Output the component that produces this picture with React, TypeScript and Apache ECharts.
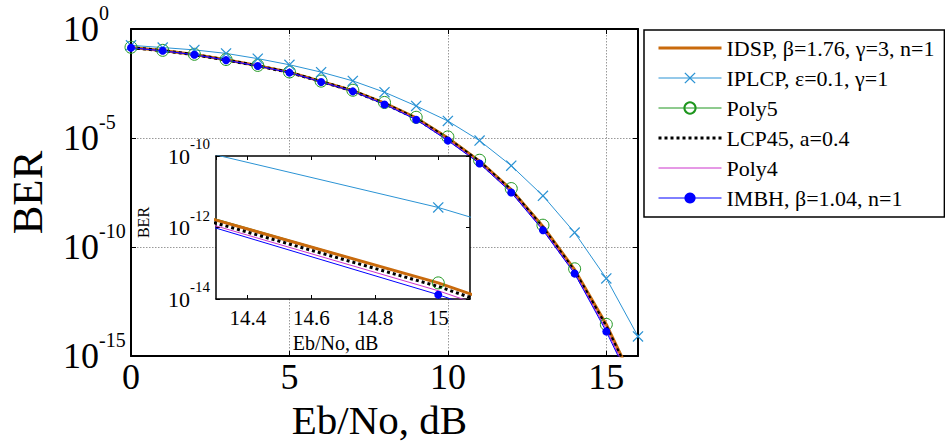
import React, { useEffect, useRef } from 'react';
import * as echarts from 'echarts';

// Eb/No (dB) sample points
const ebNo = [0, 1, 2, 3, 4, 5, 6, 7, 8, 9, 10, 11, 12, 13, 14, 15, 16];

// BER values
const berIDSP = [0.141, 0.102, 0.0676, 0.0389, 0.0209, 0.0105, 3.98e-3, 1.48e-3, 3.98e-4, 8.32e-5, 1.0e-5, 8.71e-7, 4.27e-8, 8.71e-10, 9.12e-12, 2.82e-14, 2.51e-17];
const berIPLCP = [0.178, 0.141, 0.11, 0.0759, 0.0437, 0.0229, 0.0105, 4.17e-3, 1.26e-3, 2.95e-4, 6.03e-5, 7.59e-6, 5.37e-7, 2.24e-8, 4.57e-10, 3.63e-12, 7.94e-15];
const berPoly5 = [0.145, 0.105, 0.0692, 0.0398, 0.0214, 0.0107, 4.07e-3, 1.55e-3, 4.27e-4, 8.91e-5, 1.12e-5, 9.55e-7, 4.79e-8, 1.0e-9, 1.0e-11, 2.82e-14, 3.16e-17];
const berLCP45 = [0.14, 0.101, 0.0668, 0.038, 0.0204, 0.0102, 3.89e-3, 1.45e-3, 3.8e-4, 7.76e-5, 9.12e-6, 8.13e-7, 3.89e-8, 7.59e-10, 7.59e-12, 2.24e-14, 2.0e-17];
const berPoly4 = [0.138, 0.1, 0.0661, 0.0376, 0.0202, 0.0101, 3.8e-3, 1.41e-3, 3.63e-4, 7.41e-5, 8.32e-6, 7.41e-7, 3.47e-8, 6.61e-10, 6.61e-12, 1.7e-14, 1.58e-17];
const berIMBH = [0.138, 0.1, 0.0661, 0.0372, 0.02, 0.01, 3.72e-3, 1.38e-3, 3.47e-4, 6.92e-5, 7.59e-6, 6.76e-7, 3.16e-8, 5.89e-10, 6.03e-12, 1.32e-14, 1.26e-17];

// series names (legend order)
const names = [
  'IDSP, β=1.76, γ=3, n=1',
  'IPLCP, ε=0.1, γ=1',
  'Poly5',
  'LCP45, a=0.4',
  'Poly4',
  'IMBH, β=1.04, n=1',
];

// axis ranges (decades for BER)
const mainX = [0, 16];
const mainYExp = [-15, 0];
const insetX = [14.3, 15.1];
const insetYExp = [-14, -10];

const SERIF = 'Liberation Serif';
const CROSS = 'path://M0,0.8L0.8,0L5,4.2L9.2,0L10,0.8L5.8,5L10,9.2L9.2,10L5,5.8L0.8,10L0,9.2L4.2,5Z';

export default function App() {
  const ref = useRef<HTMLDivElement>(null);

  useEffect(() => {
    const chart = echarts.init(ref.current!, undefined, { renderer: 'svg' });

    const defs = [
      { name: names[0], data: berIDSP, color: '#C96A0C', width: 3, dash: 'solid' as any, symbol: 'none', size: 0, item: {} },
      { name: names[1], data: berIPLCP, color: '#2B93D4', width: 1, dash: 'solid' as any, symbol: CROSS, size: 11, item: { color: '#2B93D4', borderWidth: 0 } },
      { name: names[2], data: berPoly5, color: '#1E961E', width: 1, dash: 'solid' as any, symbol: 'circle', size: 12, item: { color: 'rgba(0,0,0,0)', borderColor: '#1E961E', borderWidth: 1 } },
      { name: names[3], data: berLCP45, color: '#000000', width: 3, dash: [3, 3] as any, symbol: 'none', size: 0, item: {} },
      { name: names[4], data: berPoly4, color: '#CC33CC', width: 1, dash: 'solid' as any, symbol: 'none', size: 0, item: {} },
      { name: names[5], data: berIMBH, color: '#0000FF', width: 1, dash: 'solid' as any, symbol: 'circle', size: 8, item: { color: '#0000FF', borderWidth: 0 } },
    ];
    // draw order: Poly5 lies beneath the thick IDSP line
    const drawOrder = [2, 0, 1, 3, 4, 5];

    const mk = (d: any, xi: number, yi: number, z: number) => ({
      type: 'line',
      name: d.name,
      xAxisIndex: xi,
      yAxisIndex: yi,
      z,
      data: ebNo.map((x, i) => [x, Math.log10(d.data[i])]),
      symbol: d.symbol,
      symbolSize: d.size,
      showSymbol: d.symbol !== 'none',
      color: d.color,
      lineStyle: { color: d.color, width: d.width, type: d.dash, cap: 'butt' },
      itemStyle: d.item,
      clip: true,
      silent: true,
      smooth: false,
      emphasis: { disabled: true },
    });

    const series: any[] = [];
    drawOrder.forEach((k) => series.push(mk(defs[k], 0, 0, 2)));
    drawOrder.forEach((k) => series.push(mk(defs[k], 2, 2, 12)));

    const blackLine = (w: number) => ({ show: true, onZero: false, lineStyle: { color: '#000', width: w } });
    const tick = (len: number) => ({ show: true, inside: true, length: len, lineStyle: { color: '#000', width: 1 } });
    const grey = { show: true, lineStyle: { color: '#999999', width: 1, type: [1.5, 1.5] } };

    const option: any = {
      animation: false,
      backgroundColor: '#fff',
      textStyle: { fontFamily: SERIF, color: '#000' },
      grid: [
        { left: 131, top: 29, width: 507, height: 327, containLabel: false, outerBoundsMode: 'none', show: false },
        { left: 216, top: 156, width: 254, height: 143, containLabel: false, outerBoundsMode: 'none', show: true, backgroundColor: '#fff', borderWidth: 0, z: 10 },
      ],
      legend: {
        orient: 'vertical',
        left: 644,
        top: 30,
        padding: [7, 10, 8, 13],
        itemGap: 8,
        itemWidth: 63,
        itemHeight: 14,
        backgroundColor: '#fff',
        borderColor: '#000',
        borderWidth: 1.5,
        borderRadius: 0,
        selectedMode: false,
        textStyle: { fontFamily: SERIF, fontSize: 22, color: '#000' },
        data: names.map((n, i) => ({
          name: n,
          itemStyle: defs[i].symbol === 'none' ? { opacity: 0 } : undefined,
          lineStyle: { color: defs[i].color, width: defs[i].width, type: defs[i].dash },
        })),
      },
      xAxis: [
        {
          gridIndex: 0, type: 'value', min: mainX[0], max: mainX[1], interval: 5, position: 'bottom',
          axisLine: blackLine(2), axisTick: tick(5),
          axisLabel: { show: true, color: '#000', fontSize: 36, lineHeight: 32, fontFamily: SERIF, margin: 5, showMaxLabel: false },
          splitLine: grey,
          name: 'Eb/No, dB', nameLocation: 'middle', nameGap: 43, nameMoveOverlap: false,
          nameTextStyle: { fontSize: 41, fontFamily: SERIF, color: '#000', lineHeight: 41, padding: [0, 10, 0, 0] },
        },
        {
          gridIndex: 0, type: 'value', min: mainX[0], max: mainX[1], interval: 5, position: 'top',
          axisLine: blackLine(2), axisTick: tick(5), axisLabel: { show: false }, splitLine: { show: false },
        },
        {
          gridIndex: 1, type: 'value', min: insetX[0], max: insetX[1], position: 'bottom', z: 11,
          axisLine: blackLine(1.5), axisTick: tick(4),
          axisLabel: { show: true, color: '#000', fontSize: 21, fontFamily: SERIF, margin: 8, showMinLabel: false, showMaxLabel: false },
          splitLine: { show: false },
          name: 'Eb/No, dB', nameLocation: 'middle', nameGap: 34, nameMoveOverlap: false,
          nameTextStyle: { fontSize: 20, fontFamily: SERIF, color: '#000', lineHeight: 20, padding: [0, 15, 0, 0] },
        },
        {
          gridIndex: 1, type: 'value', min: insetX[0], max: insetX[1], position: 'top', z: 11,
          axisLine: blackLine(1.5), axisTick: tick(4), axisLabel: { show: false }, splitLine: { show: false },
        },
      ],
      yAxis: [
        {
          gridIndex: 0, type: 'value', min: mainYExp[0], max: mainYExp[1], interval: 5, position: 'left',
          axisLine: blackLine(2), axisTick: tick(5), splitLine: grey,
          axisLabel: {
            show: true, align: 'left', margin: 68,
            formatter: (v: number) => `{b|10}{s|${v}}`,
            rich: {
              b: { fontSize: 36, fontFamily: SERIF, color: '#000', lineHeight: 36 },
              s: { fontSize: 20, fontFamily: SERIF, color: '#000', lineHeight: 20, padding: [0, 0, 32, 0] },
            },
          },
          name: 'BER', nameLocation: 'middle', nameGap: 82, nameMoveOverlap: false,
          nameTextStyle: { fontSize: 43, fontFamily: SERIF, color: '#000' },
        },
        {
          gridIndex: 0, type: 'value', min: mainYExp[0], max: mainYExp[1], interval: 5, position: 'right',
          axisLine: blackLine(2), axisTick: tick(5), axisLabel: { show: false }, splitLine: { show: false },
        },
        {
          gridIndex: 1, type: 'value', min: insetYExp[0], max: insetYExp[1], interval: 2, position: 'left', z: 11,
          axisLine: blackLine(1.5), axisTick: tick(4), splitLine: { show: false },
          axisLabel: {
            show: true, align: 'left', margin: 48,
            formatter: (v: number) => `{b|10}{s|${v}}`,
            rich: {
              b: { fontSize: 22, fontFamily: SERIF, color: '#000', lineHeight: 22 },
              s: { fontSize: 15, fontFamily: SERIF, color: '#000', lineHeight: 15, padding: [0, 0, 24, 0] },
            },
          },
          name: 'BER', nameLocation: 'middle', nameGap: 65, nameMoveOverlap: false,
          nameTextStyle: { fontSize: 16, fontFamily: SERIF, color: '#000', padding: [0, 0, 0, 10] },
        },
        {
          gridIndex: 1, type: 'value', min: insetYExp[0], max: insetYExp[1], interval: 2, position: 'right', z: 11,
          axisLine: blackLine(1.5), axisTick: tick(4), axisLabel: { show: false }, splitLine: { show: false },
        },
      ],
      series,
    };

    chart.setOption(option);
    return () => chart.dispose();
  }, []);

  return <div ref={ref} style={{ position: 'absolute', left: 0, top: 0, width: 945, height: 442 }} />;
}
